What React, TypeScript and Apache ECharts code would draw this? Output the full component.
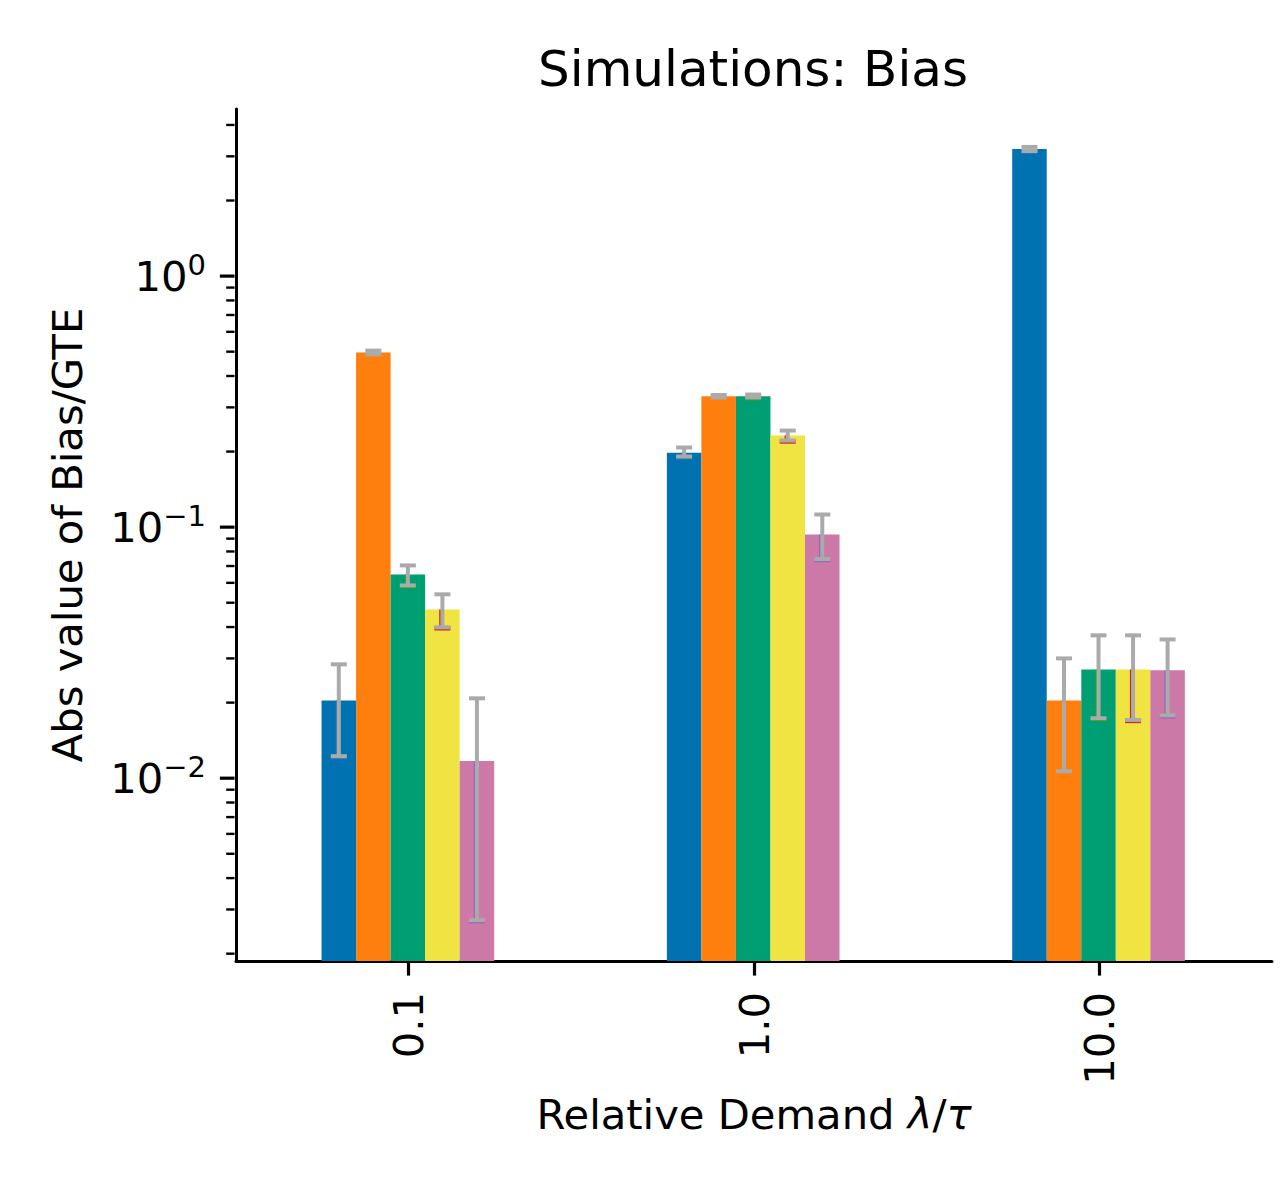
import React, { useEffect, useRef } from 'react';
import * as echarts from 'echarts';

// ---- data ----
const categories = ['0.1', '1.0', '10.0'];
const seriesNames = ['S1', 'S2', 'S3', 'S4', 'S5'];
const barColors = ['#0072B2', '#FF7F0E', '#009E73', '#F0E442', '#CC79A7'];
const innerErrColors = ['#1f77b4', '#ff7f0e', '#2ca02c', '#d62728', '#9467bd'];

const s1Values = [0.0204, 0.198, 3.21];
const s2Values = [0.496, 0.332, 0.0204];
const s3Values = [0.0648, 0.332, 0.0271];
const s4Values = [0.047, 0.232, 0.0271];
const s5Values = [0.0117, 0.0935, 0.0269];

const s1Low = [0.01224, 0.1911, 3.15];
const s2Low = [0.488, 0.3286, 0.01066];
const s3Low = [0.0586, 0.3286, 0.01733];
const s4Low = [0.0399, 0.2213, 0.01706];
const s5Low = [0.00272, 0.0746, 0.0178];

const s1High = [0.02842, 0.2076, 3.27];
const s2High = [0.505, 0.336, 0.03];
const s3High = [0.0704, 0.3375, 0.03707];
const s4High = [0.054, 0.2425, 0.03707];
const s5High = [0.0208, 0.1123, 0.0357];

const majorTicks = [0.01, 0.1, 1];
const minorTicks = [
  0.002, 0.003, 0.004, 0.005, 0.006, 0.007, 0.008, 0.009,
  0.02, 0.03, 0.04, 0.05, 0.06, 0.07, 0.08, 0.09,
  0.2, 0.3, 0.4, 0.5, 0.6, 0.7, 0.8, 0.9,
  2, 3, 4,
];

const yMin = 0.00187;
const yMax = 4.63;

const allValues = [s1Values, s2Values, s3Values, s4Values, s5Values];
const allLow = [s1Low, s2Low, s3Low, s4Low, s5Low];
const allHigh = [s1High, s2High, s3High, s4High, s5High];

const FONT = 'DejaVu Sans';
const ERR = '#aaaaaa';

function makeBarRender(j: number) {
  return (params: any, api: any) => {
    const cat = api.value(0);
    const v = api.value(1);
    const lo = api.value(2);
    const hi = api.value(3);
    const band = api.size([1, 0])[0];
    const n = seriesNames.length;
    const bw = (band * 0.5) / n;
    const top = api.coord([cat, v]);
    const cx = top[0] + (j - (n - 1) / 2) * bw - 0.8;
    const cs = params.coordSys;
    const bottom = cs.y + cs.height;
    const yLo = api.coord([cat, lo])[1];
    const yHi = api.coord([cat, hi])[1];
    const capW = 16;
    const lw = 4;
    return {
      type: 'group',
      children: [
        {
          type: 'rect',
          shape: { x: cx - bw / 2, y: top[1], width: bw, height: bottom - top[1] },
          style: { fill: barColors[j] },
        },
        {
          type: 'rect',
          shape: { x: cx - 3.2, y: top[1], width: 4, height: Math.max(0, yLo - top[1]) },
          style: { fill: innerErrColors[j] },
        },
        {
          type: 'rect',
          shape: { x: cx - capW / 2, y: yLo - 1, width: capW, height: 4.2 },
          style: { fill: innerErrColors[j] },
        },
        {
          type: 'rect',
          shape: { x: cx - lw / 2, y: yHi, width: lw, height: yLo - yHi },
          style: { fill: ERR },
        },
        {
          type: 'rect',
          shape: { x: cx - capW / 2, y: yHi - lw / 2, width: capW, height: lw },
          style: { fill: ERR },
        },
        {
          type: 'rect',
          shape: { x: cx - capW / 2, y: yLo - lw / 2, width: capW, height: lw },
          style: { fill: ERR },
        },
      ],
    };
  };
}

function tickRender(params: any, api: any) {
  const isMajor = api.value(2) === 1;
  const y = api.coord([0, api.value(1)])[1];
  const x0 = params.coordSys.x - 1.5;
  const len = isMajor ? 14.6 : 8.3;
  return {
    type: 'line',
    shape: { x1: x0 - len, y1: y, x2: x0, y2: y },
    style: { stroke: '#000', lineWidth: isMajor ? 3.2 : 2.4 },
  };
}

export default function App() {
  const ref = useRef<HTMLDivElement>(null);
  useEffect(() => {
    if (!ref.current) return;
    const chart = echarts.init(ref.current, undefined, { renderer: 'svg' });

    const barSeries = seriesNames.map((name, j) => ({
      type: 'custom',
      name,
      clip: false,
      silent: true,
      renderItem: makeBarRender(j),
      encode: { x: 0, y: 1 },
      data: categories.map((_, i) => [i, allValues[j][i], allLow[j][i], allHigh[j][i]]),
      z: 2,
    }));

    const tickData = [
      ...majorTicks.map((v) => [0, v, 1]),
      ...minorTicks.map((v) => [0, v, 0]),
    ];

    const option: any = {
      animation: false,
      backgroundColor: '#ffffff',
      textStyle: { fontFamily: FONT },
      title: {
        text: 'Simulations: Bias',
        left: 748,
        textAlign: 'center',
        top: 39,
        textStyle: { fontFamily: FONT, fontSize: 50, fontWeight: 'normal', color: '#000' },
      },
      grid: {
        left: 236,
        right: 13,
        top: 109,
        bottom: 237,
        containLabel: false,
        outerBoundsMode: 'none',
      },
      xAxis: {
        type: 'category',
        data: categories,
        boundaryGap: true,
        name: 'Relative Demand {i|λ}/{i|τ}',
        nameLocation: 'middle',
        nameGap: 132,
        nameTextStyle: {
          fontFamily: FONT,
          fontSize: 41.7,
          color: '#000',
          rich: {
            i: { fontFamily: FONT, fontSize: 41.7, fontStyle: 'italic', color: '#000' },
          },
        },
        axisLine: { show: true, lineStyle: { color: '#000', width: 3 } },
        axisTick: { show: true, alignWithLabel: true, length: 14.6, lineStyle: { color: '#000', width: 3.2 } },
        axisLabel: { rotate: 90, margin: 31, fontFamily: FONT, fontSize: 41.7, color: '#000' },
        splitLine: { show: false },
      },
      yAxis: {
        type: 'log',
        logBase: 10,
        min: yMin,
        max: yMax,
        name: 'Abs value of Bias/GTE',
        nameLocation: 'middle',
        nameRotate: 90,
        nameGap: 148,
        nameTextStyle: { fontFamily: FONT, fontSize: 41.7, color: '#000' },
        axisLine: { show: true, lineStyle: { color: '#000', width: 3 } },
        axisTick: { show: false },
        splitLine: { show: false },
        minorTick: { show: false },
        axisLabel: {
          margin: 30,
          showMinLabel: false,
          showMaxLabel: false,
          color: '#000',
          formatter: (v: number) => {
            const e = Math.log10(v);
            const r = Math.round(e);
            if (Math.abs(e - r) > 1e-6) return '';
            return `{b|10}{s|${r < 0 ? '\u2212' : ''}${Math.abs(r)}}`;
          },
          rich: {
            b: { fontFamily: FONT, fontSize: 41.7, color: '#000' },
            s: { fontFamily: FONT, fontSize: 29, color: '#000', padding: [0, 0, 22, 0] },
          },
        },
      },
      series: [
        ...barSeries,
        {
          type: 'custom',
          name: 'yticks',
          clip: false,
          silent: true,
          renderItem: tickRender,
          encode: { x: 0, y: 1 },
          data: tickData,
          z: 5,
        },
      ],
    };
    chart.setOption(option);
    return () => chart.dispose();
  }, []);

  return (
    <div
      ref={ref}
      style={{ position: 'absolute', left: 0, top: 0, width: 1285, height: 1198, background: '#fff' }}
    />
  );
}
